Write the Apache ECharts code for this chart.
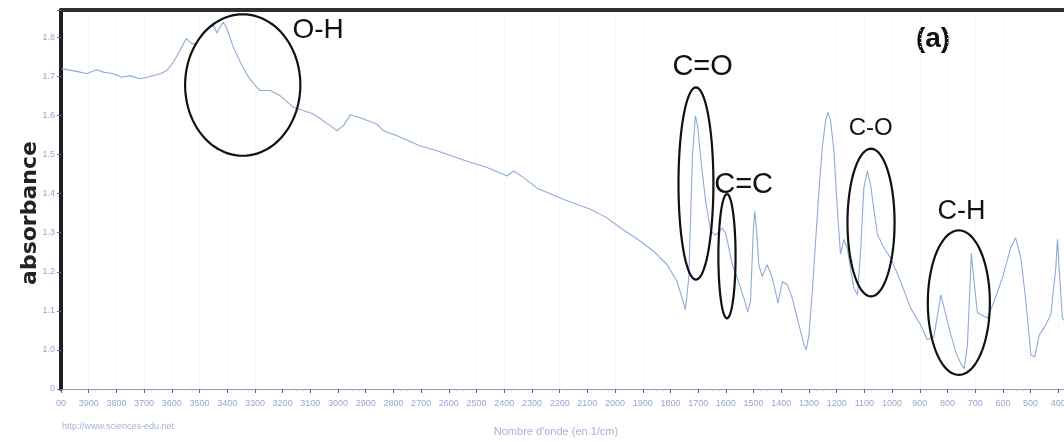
<!DOCTYPE html>
<html><head><meta charset="utf-8">
<script src="https://cdn.jsdelivr.net/npm/echarts@6/dist/echarts.min.js"></script>
<style>html,body{margin:0;padding:0;background:#fff}#c{width:1064px;height:442px}</style>
</head><body><div id="c"></div>
<script>
// Spectrum (wavenumber in 1/cm, absorbance)
const wavenumbers = [3997,3931,3907,3871,3847,3811,3781,3751,3715,3678,
3642,3618,3594,3570,3548,3528,3510,3486,3468,3450,
3437,3426,3414,3401,3378,3347,3323,3293,3281,3245,
3209,3161,3089,3028,3004,2980,2956,2908,2860,2836,
2787,2703,2643,2547,2462,2390,2366,2330,2281,2185,
2089,2029,1980,1908,1860,1812,1776,1758,1746,1734,
1728,1721,1710,1701,1691,1673,1655,1637,1613,1601,
1589,1577,1559,1547,1535,1521,1511,1501,1496,1489,
1481,1469,1451,1432,1421,1412,1396,1378,1360,1342,
1318,1310,1300,1288,1276,1264,1252,1240,1232,1222,
1210,1198,1186,1174,1162,1138,1125,1113,1102,1089,
1077,1065,1053,1029,1005,969,933,897,873,849,
824,812,788,770,752,740,728,714,704,692,
656,632,602,572,554,535,517,499,485,469,
451,427,409,403,397,385,376];
const absorbance = [1.720,1.711,1.707,1.717,1.711,1.707,1.698,1.702,1.694,1.700,
1.707,1.715,1.737,1.767,1.797,1.784,1.784,1.814,1.822,1.831,
1.811,1.826,1.839,1.822,1.775,1.728,1.698,1.672,1.664,1.664,
1.651,1.621,1.604,1.574,1.561,1.574,1.602,1.591,1.578,1.561,
1.548,1.522,1.510,1.486,1.467,1.445,1.458,1.441,1.414,1.385,
1.360,1.338,1.312,1.278,1.252,1.218,1.175,1.132,1.103,1.184,
1.321,1.492,1.600,1.569,1.492,1.381,1.304,1.294,1.312,1.299,
1.261,1.218,1.184,1.158,1.132,1.098,1.124,1.304,1.355,1.304,
1.218,1.188,1.218,1.184,1.150,1.120,1.175,1.167,1.132,1.081,
1.013,1.000,1.038,1.150,1.278,1.407,1.518,1.587,1.608,1.587,
1.510,1.364,1.245,1.283,1.261,1.158,1.141,1.261,1.415,1.458,
1.420,1.355,1.296,1.261,1.235,1.175,1.107,1.064,1.026,1.034,
1.141,1.107,1.039,0.995,0.965,0.952,1.013,1.247,1.175,1.096,
1.081,1.124,1.184,1.261,1.287,1.235,1.124,0.987,0.982,1.038,
1.057,1.090,1.210,1.283,1.210,1.081,1.073];

// Tick labels
const xTickValues = [4000,3900,3800,3700,3600,3500,3400,3300,3200,3100,3000,2900,2800,2700,2600,2500,2400,2300,2200,2100,2000,1900,1800,1700,1600,1500,1400,1300,1200,1100,1000,900,800,700,600,500,400];
const xTickLabels = ['00','3900','3800','3700','3600','3500','3400','3300','3200','3100','3000','2900','2800','2700','2600','2500','2400','2300','2200','2100','2000','1900','1800','1700','1600','1500','1400','1300','1200','1100','1000','900','800','700','600','500','400'];
const yTickValues = [0.9,1.0,1.1,1.2,1.3,1.4,1.5,1.6,1.7,1.8];
const yTickLabels = ['0','1.0','1.1','1.2','1.3','1.4','1.5','1.6','1.7','1.8'];

// Band annotations (ellipses in data units)
const bandNames = ['O-H','C=O','C=C','C-O','C-H'];
const bandCenterWn = [3344,1708,1596,1076,759];
const bandCenterAbs = [1.678,1.426,1.240,1.326,1.121];
const bandHalfWidthWn = [208,63,31,85,112];
const bandHalfHeightAbs = [0.181,0.246,0.159,0.189,0.185];
const bandLabelWn = [3072,1684,1536,1077,749];
const bandLabelAbs = [1.818,1.723,1.422,1.566,1.355];
const bandLabelSize = [28,29,29,24,27];

const chart = echarts.init(document.getElementById('c'), null, {renderer:'canvas'});
const lineData = wavenumbers.map((w,i)=>[w, absorbance[i]]);
const bandData = bandNames.map((n,i)=>[bandCenterWn[i], bandCenterAbs[i], i]);
const labelColor = '#97a7cf';

chart.setOption({
  animation:false,
  backgroundColor:'#ffffff',
  grid:{left:61, top:10, right:-22, bottom:53, containLabel:false, outerBoundsMode:'none'},
  xAxis:[{
    type:'value', min:300, max:4000, interval:100, inverse:true, position:'bottom',
    axisLine:{show:true, onZero:false, lineStyle:{color:'#8e9bbd', width:1}},
    axisTick:{show:true, length:4, lineStyle:{color:'#5d6580'}},
    minorTick:{show:true, splitNumber:4, length:2, lineStyle:{color:'#b6bfd6'}},
    axisLabel:{color:labelColor, fontSize:9, margin:10, fontFamily:'Liberation Sans', hideOverlap:false,
      formatter:function(v){const i=xTickValues.indexOf(Math.round(v)); return i>=0?xTickLabels[i]:'';}},
    splitLine:{show:true, lineStyle:{color:'#e6eaf2', type:[1,3], width:1}}
  },{
    type:'value', min:300, max:4000, interval:100, inverse:true, position:'top',
    axisLine:{show:true, onZero:false, lineStyle:{color:'#2e2e38', width:4}},
    axisTick:{show:false}, axisLabel:{show:false}, splitLine:{show:false}
  }],
  yAxis:{
    type:'value', min:0.9, max:1.87, interval:0.1,
    axisLine:{show:true, onZero:false, lineStyle:{color:'#1e1e26', width:4}},
    axisTick:{show:true, length:4, lineStyle:{color:'#5d6580'}},
    axisLabel:{color:labelColor, fontSize:9, margin:6, fontFamily:'Liberation Sans',
      formatter:function(v){for(let i=0;i<yTickValues.length;i++){if(Math.abs(v-yTickValues[i])<1e-6)return yTickLabels[i];}return '';}},
    splitLine:{show:false}
  },
  series:[{
    type:'line', data:lineData, showSymbol:false, symbol:'none',
    lineStyle:{color:'#8eabd8', width:1.1}, silent:true, z:3
  },{
    type:'custom', data:bandData, silent:true, z:5, clip:false,
    renderItem:function(params, api){
      const i = params.dataIndex;
      const pts = [];
      for(let k=0;k<96;k++){
        const t = k/96*Math.PI*2;
        pts.push(api.coord([bandCenterWn[i] + bandHalfWidthWn[i]*Math.cos(t), bandCenterAbs[i] + bandHalfHeightAbs[i]*Math.sin(t)]));
      }
      const lp = api.coord([bandLabelWn[i], bandLabelAbs[i]]);
      return {type:'group', children:[
        {type:'polygon', shape:{points:pts}, style:{fill:'none', stroke:'#111', lineWidth:2.2}},
        {type:'text', x:lp[0], y:lp[1], style:{text:bandNames[i], fill:'#111',
          font: bandLabelSize[i]+'px "Liberation Sans", Arial, sans-serif',
          align:'center', verticalAlign:'middle', textAlign:'center', textVerticalAlign:'middle'}}
      ]};
    }
  }],
  graphic:[
    {type:'text', x:30, y:213, rotation:Math.PI/2,
     style:{text:'absorbance', fill:'#222', font:'bold 22px "DejaVu Sans", sans-serif', align:'center', verticalAlign:'middle', textAlign:'center', textVerticalAlign:'middle'}},
    {type:'text', x:933, y:39,
     style:{text:'(a)', fill:'#111', font:'bold 28px "Liberation Sans", Arial, sans-serif', align:'center', verticalAlign:'middle', textAlign:'center', textVerticalAlign:'middle'}},
    {type:'text', x:62, y:427,
     style:{text:'http://www.sciences-edu.net', fill:'#a3b2d6', font:'9px "Liberation Sans", sans-serif', align:'left', verticalAlign:'middle', textAlign:'left', textVerticalAlign:'middle'}},
    {type:'text', x:556, y:432,
     style:{text:"Nombre d'onde (en 1/cm)", fill:'#a3b2d6', font:'11px "Liberation Sans", sans-serif', align:'center', verticalAlign:'middle', textAlign:'center', textVerticalAlign:'middle'}}
  ]
});
</script></body></html>
